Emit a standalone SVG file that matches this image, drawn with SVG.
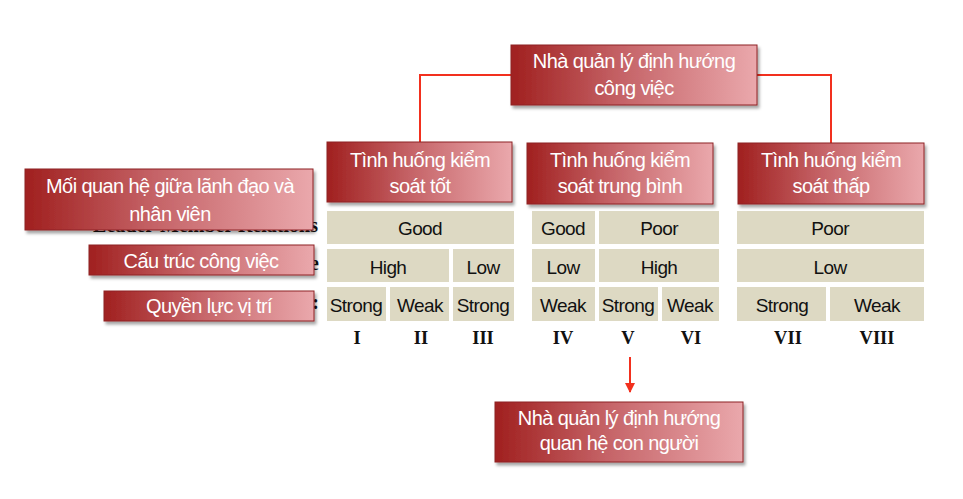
<svg xmlns="http://www.w3.org/2000/svg" width="963" height="499" viewBox="0 0 963 499">
<style>
.box{fill:url(#rg);stroke:#8e2226;stroke-width:1;filter:url(#sh)}
.bt{font-family:"Liberation Sans",Arial,sans-serif;font-size:20px;fill:#ffffff;text-anchor:middle;letter-spacing:-0.6px}
.cell{fill:#ddd9c3}
.ct{font-family:"Liberation Sans",Arial,sans-serif;font-size:19px;fill:#111111;text-anchor:middle;letter-spacing:-0.6px}
.rn{font-family:"Liberation Serif","Times New Roman",serif;font-size:18.5px;font-weight:bold;fill:#111111;text-anchor:middle}
.hid{font-family:"Liberation Serif","Times New Roman",serif;font-size:20px;font-weight:bold;fill:#111111;text-anchor:end}
.ln{fill:none;stroke:#f2301e;stroke-width:2}
</style>
<defs>
<linearGradient id="rg" x1="0" y1="0" x2="1" y2="0">
<stop offset="0" stop-color="#a0201f"/>
<stop offset="0.45" stop-color="#c56367"/>
<stop offset="1" stop-color="#eaa8ac"/>
</linearGradient>
<filter id="sh" x="-10%" y="-20%" width="125%" height="150%">
<feDropShadow dx="2" dy="3" stdDeviation="1.8" flood-color="#000" flood-opacity="0.35"/>
</filter>
<marker id="ah" viewBox="0 0 10 10" refX="9" refY="5" markerWidth="5" markerHeight="5" orient="auto" markerUnits="strokeWidth">
<path d="M0,0 L10,5 L0,10 z" fill="#f2301e"/>
</marker>
</defs>

<g id="connectors">
<path class="ln" d="M511,75 H420 V142"/>
<path class="ln" d="M757,75 H831 V144"/>
<path class="ln" d="M630,357 V392" marker-end="url(#ah)"/>
</g>

<g id="hidden-labels">
<text class="hid" x="318" y="232">Leader-Member Relations</text>
<text class="hid" x="319" y="270">Task Structure</text>
<text class="hid" x="319" y="309">Position Power:</text>
</g>

<g id="top-manager">
<rect class="box" x="511" y="45" width="246" height="60"/>
<text class="bt" x="634" y="68">Nhà quản lý định hướng</text>
<text class="bt" x="634" y="95">công việc</text>
</g>

<g id="situation-good">
<rect class="box" x="327" y="142" width="185" height="60"/>
<text class="bt" x="420" y="167">Tình huống kiểm</text>
<text class="bt" x="420" y="193">soát tốt</text>
</g>
<g id="situation-medium">
<rect class="box" x="527" y="143" width="186" height="61"/>
<text class="bt" x="620" y="167">Tình huống kiểm</text>
<text class="bt" x="620" y="193">soát trung bình</text>
</g>
<g id="situation-low">
<rect class="box" x="738" y="143" width="186" height="61"/>
<text class="bt" x="831" y="167">Tình huống kiểm</text>
<text class="bt" x="831" y="193">soát thấp</text>
</g>

<g id="label-relations">
<rect class="box" x="25" y="169" width="288" height="61"/>
<text class="bt" x="170" y="193">Mối quan hệ giữa lãnh đạo và</text>
<text class="bt" x="170" y="221">nhân viên</text>
</g>
<g id="label-structure">
<rect class="box" x="89" y="245" width="225" height="30"/>
<text class="bt" x="201" y="268">Cấu trúc công việc</text>
</g>
<g id="label-power">
<rect class="box" x="104" y="291" width="210" height="30"/>
<text class="bt" x="209" y="313">Quyền lực vị trí</text>
</g>

<g id="grid-group1">
<rect class="cell" x="327" y="211" width="187" height="33"/>
<text class="ct" x="420" y="235">Good</text>
<rect class="cell" x="327" y="249" width="122" height="33"/>
<text class="ct" x="388" y="274">High</text>
<rect class="cell" x="453" y="249" width="61" height="33"/>
<text class="ct" x="483" y="274">Low</text>
<rect class="cell" x="327" y="287" width="59" height="34"/>
<text class="ct" x="356" y="312">Strong</text>
<rect class="cell" x="390" y="287" width="59" height="34"/>
<text class="ct" x="420" y="312">Weak</text>
<rect class="cell" x="453" y="287" width="61" height="34"/>
<text class="ct" x="483" y="312">Strong</text>
<text class="rn" x="357" y="344">I</text>
<text class="rn" x="421" y="344">II</text>
<text class="rn" x="483" y="344">III</text>
</g>

<g id="grid-group2">
<rect class="cell" x="532" y="211" width="63" height="33"/>
<text class="ct" x="563" y="235">Good</text>
<rect class="cell" x="599" y="211" width="120" height="33"/>
<text class="ct" x="659" y="235">Poor</text>
<rect class="cell" x="532" y="249" width="63" height="33"/>
<text class="ct" x="563" y="274">Low</text>
<rect class="cell" x="599" y="249" width="120" height="33"/>
<text class="ct" x="659" y="274">High</text>
<rect class="cell" x="532" y="287" width="63" height="34"/>
<text class="ct" x="563" y="312">Weak</text>
<rect class="cell" x="599" y="287" width="59" height="34"/>
<text class="ct" x="628" y="312">Strong</text>
<rect class="cell" x="662" y="287" width="57" height="34"/>
<text class="ct" x="690" y="312">Weak</text>
<text class="rn" x="563" y="344">IV</text>
<text class="rn" x="628" y="344">V</text>
<text class="rn" x="691" y="344">VI</text>
</g>

<g id="grid-group3">
<rect class="cell" x="737" y="211" width="187" height="33"/>
<text class="ct" x="830" y="235">Poor</text>
<rect class="cell" x="737" y="249" width="187" height="33"/>
<text class="ct" x="830" y="274">Low</text>
<rect class="cell" x="737" y="287" width="89" height="34"/>
<text class="ct" x="782" y="312">Strong</text>
<rect class="cell" x="830" y="287" width="94" height="34"/>
<text class="ct" x="877" y="312">Weak</text>
<text class="rn" x="788" y="344">VII</text>
<text class="rn" x="877" y="344">VIII</text>
</g>

<g id="bottom-manager">
<rect class="box" x="495" y="402" width="248" height="60"/>
<text class="bt" x="619" y="425">Nhà quản lý định hướng</text>
<text class="bt" x="619" y="450">quan hệ con người</text>
</g>
</svg>
